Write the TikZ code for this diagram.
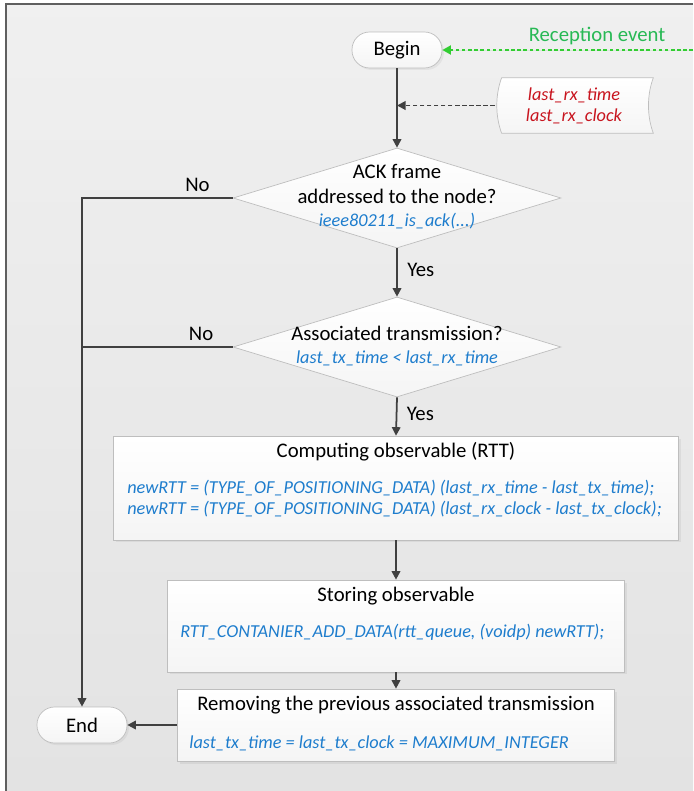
\documentclass[tikz,border=0pt]{standalone}
\usepackage{fontspec}
\setmainfont{Carlito}
\usetikzlibrary{positioning, calc, arrows.meta, shapes.geometric, shadows}
\definecolor{codeblue}{RGB}{30,125,205}
\definecolor{datared}{RGB}{200,20,30}
\definecolor{eventgreen}{RGB}{40,185,85}
\definecolor{dotgreen}{RGB}{50,205,50}
\definecolor{linegray}{RGB}{64,64,64}
\definecolor{bordergray}{RGB}{190,190,190}
\definecolor{framegray}{RGB}{95,95,95}
\newcommand{\flowfont}{\fontsize{11.8}{14.2}\selectfont}
\newcommand{\flowcode}{\fontsize{10.4}{12}\selectfont\itshape}
\tikzset{
    basebox/.style={
        draw=bordergray,
        top color=white,
        bottom color=black!4,
        inner sep=0pt
    },
    procbox/.style={basebox, rectangle, drop shadow={opacity=0.12, shadow xshift=0.05cm, shadow yshift=-0.05cm}},
    termbox/.style={basebox, rectangle, rounded corners=0.35cm, minimum width=1.8cm, minimum height=0.72cm, font=\flowfont, drop shadow={opacity=0.10, shadow xshift=0.04cm, shadow yshift=-0.04cm}},
    decision/.style={basebox, diamond, minimum width=6.56cm, minimum height=2cm},
    titletext/.style={font=\flowfont, inner sep=0pt},
    codetext/.style={font=\flowcode, text=codeblue, align=left, inner sep=0pt},
    flowline/.style={line width=1pt, draw=linegray},
    flowarrow/.style={flowline, -{Triangle[length=1.7mm, width=1.7mm]}},
    dataarrow/.style={-{Triangle[length=1.7mm, width=1.7mm]}, line width=1.1pt, draw=linegray, dash pattern=on 2.5pt off 1.5pt},
    eventarrow/.style={-{Triangle[length=1.7mm, width=1.8mm]}, line width=1pt, draw=dotgreen, fill=dotgreen, dash pattern=on 2pt off 1.5pt}
}

\begin{document}
\begin{tikzpicture}[x=0.02cm, y=-0.02cm]

    \useasboundingbox (0,0) rectangle (693,791);

    % 0. Fondo y marco
    \shade[top color=black!6, bottom color=black!11] (6,4) rectangle (693,791);
    \draw[framegray, line width=1.2pt] (6,791) -- (6,4) -- (693,4);

    % 1. Inicio y evento de recepcion
    \node[termbox] (begin) at (397,50) {Begin};
    \node[font=\flowfont, text=eventgreen] (reception) at (597,36) {Reception event};
    \coordinate (evsrc) at (693,50);

    % 2. Datos de entrada
    \node[minimum width=3.02cm, minimum height=1.1cm, inner sep=0pt] (rxshape) at (577.5,105.5) {};
    \coordinate (rxjoin) at (397,105.5);

    % 3. Decisiones
    \node[decision] (ackdec) at (397,198) {};
    \node[titletext, align=center] (acktxt) at (397,197) {ACK frame\\addressed to the node?\\[-1pt]{\flowcode\color{codeblue}ieee80211\_is\_ack(...)}};

    \node[decision] (assocdec) at (397,347) {};
    \node[titletext, align=center] (assoctxt) at (397,346) {Associated transmission?\\[-1pt]{\flowcode\color{codeblue}last\_tx\_time < last\_rx\_time}};

    % 4. Procesos
    \node[procbox, minimum width=11.3cm, minimum height=2.08cm] (rttbox) at (396,488) {};
    \node[titletext] (rtttitle) at (396,452) {Computing observable (RTT)};
    \node[codetext, anchor=west] (rttcode) at (127,499) {newRTT = (TYPE\_OF\_POSITIONING\_DATA) (last\_rx\_time - last\_tx\_time);\\newRTT = (TYPE\_OF\_POSITIONING\_DATA) (last\_rx\_clock - last\_tx\_clock);};

    \node[procbox, minimum width=9.14cm, minimum height=1.84cm] (storebox) at (396,626) {};
    \node[titletext] (storetitle) at (396,596) {Storing observable};
    \node[codetext, anchor=west] (storecode) at (180,632) {RTT\_CONTANIER\_ADD\_DATA(rtt\_queue, (voidp) newRTT);};

    \node[procbox, minimum width=8.74cm, minimum height=1.44cm] (clearbox) at (396,725) {};
    \node[titletext] (cleartitle) at (396,705) {Removing the previous associated transmission};
    \node[codetext, anchor=west] (clearcode) at (189,743) {last\_tx\_time = last\_tx\_clock = MAXIMUM\_INTEGER};

    % 5. Fin
    \node[termbox] (endnode) at (82,725) {End};

    % ==========================================
    % Conexiones (Flechas)
    % ==========================================
    \draw[eventarrow] (evsrc) -- (begin.east);
    \draw[dataarrow] (rxshape.west) -- (rxjoin);
    \draw[flowarrow] (begin.south) -- (ackdec.north);

    \draw[flowarrow] (ackdec.south) -- node[right, pos=0.45, xshift=2pt, font=\flowfont] (yesack) {Yes} (assocdec.north);
    \draw[flowarrow] (assocdec.south) -- node[right, pos=0.44, xshift=2pt, font=\flowfont] (yesassoc) {Yes} (rttbox.north);
    \draw[flowarrow] (rttbox.south) -- (storebox.north);
    \draw[flowarrow] (storebox.south) -- (clearbox.north);
    \draw[flowarrow] (clearbox.west) -- (endnode.east);

    % Ramas "No" hacia el fin
    \draw[flowarrow] (ackdec.west) -| node[pos=0.117, above, font=\flowfont] (noack) {No} (endnode.north);
    \draw[flowline] (assocdec.west) -- node[pos=0.21, above, font=\flowfont] (noassoc) {No} (assocdec.west -| endnode.north);

    % Contorno de los datos de entrada (lados ondulados)
    \draw[basebox] (rxshape.north west) .. controls +(-0.13cm,-0.35cm) and +(-0.13cm,0.35cm) .. (rxshape.south west)
        -- (rxshape.south east) .. controls +(-0.13cm,0.35cm) and +(-0.13cm,-0.35cm) .. (rxshape.north east) -- cycle;
    \node[font=\flowcode, text=datared, align=center] (rxdata) at (574,105.5) {last\_rx\_time\\last\_rx\_clock};

\end{tikzpicture}
\end{document}
